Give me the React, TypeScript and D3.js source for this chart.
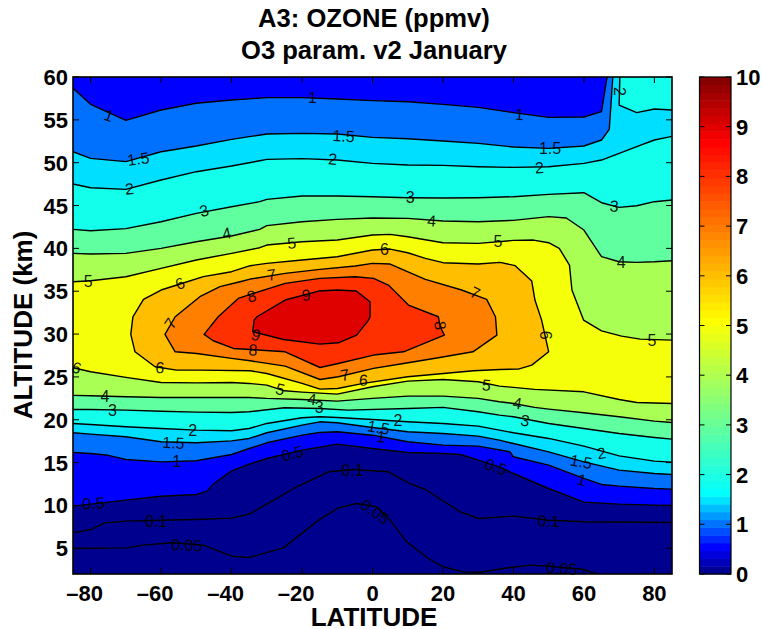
import React from "react";
import * as d3 from "d3";

type P = [number, number];

const xTicks = [-80, -60, -40, -20, 0, 20, 40, 60, 80];
const yTicks = [5, 10, 15, 20, 25, 30, 35, 40, 45, 50, 55, 60];
const cTicks = [0, 1, 2, 3, 4, 5, 6, 7, 8, 9, 10];

const c005: P[] = [[-85,4.98],[-70,5.05],[-65,5.37],[-57,5.64],[-48,5.37],[-40,4.08],[-35,3.93],[-25.3,5.05],[-14.9,8.4],[-9.7,9.72],[-4.5,10.23],[1.2,9.84],[5,8.28],[9.7,5.75],[15.9,3.81],[20,2.84],[25.8,2.25],[30,2.17],[39,2.76],[45,3.03],[50,2.91],[60,2.52],[63.7,2]];
const c01: P[] = [[-85,6.8],[-80,7.19],[-76,7.97],[-70,8.17],[-60,8.28],[-50,8.36],[-40,8.52],[-35,9],[-30,10.15],[-22.4,11.98],[-14.4,13.54],[-12.5,13.93],[-5.4,14.2],[4.5,13.93],[10.2,12.64],[15,11.86],[24.9,9.26],[30,8.48],[40,8.75],[50,8.28],[60,8.09],[85,8.01]];
const c05: P[] = [[-85,9.92],[-80,10.15],[-70,10.62],[-60,11.08],[-50,11.28],[-47,11.67],[-45,12.56],[-40,14.04],[-35,14.82],[-30,15.48],[-20,16.45],[-10,17.16],[0,16.65],[10,16.18],[20,16.07],[25,15.95],[30,15.29],[36,14.5],[40,13.73],[50,11.98],[60,10.39],[70,10.15],[80,10.04],[85,10]];
const low1: P[] = [[-85,16.18],[-80,16.07],[-75,15.85],[-70,15.36],[-60,15.09],[-50,15.21],[-40,15.95],[-35,16.65],[-30,17.31],[-20,18.2],[-15,18.52],[-10,18.6],[0,18.2],[10,17.43],[20,17.04],[30,16.92],[39,16.26],[40,15.68],[50,14.7],[60,13.15],[65,12.45],[70,12.25],[80,11.98],[85,11.9]];
const up1: P[] = [[-85,58.68],[-80,56.81],[-70,54.94],[-60,56.15],[-50,56.93],[-40,57.32],[-30,57.59],[-20,57.59],[-10,57.43],[0,57.24],[10,57.12],[20,56.81],[30,56.46],[40,55.84],[50,55.29],[60,55.33],[65,55.95],[66.5,59.8],[66.7,60]];
const low15: P[] = [[-85,18.48],[-80,18.32],[-70,18.01],[-60,17.43],[-50,17.31],[-40,17.54],[-35,17.82],[-30,18.48],[-20,19.37],[-15,19.76],[-10,19.65],[0,19.1],[10,18.6],[20,18.4],[30,18.09],[36,17.62],[40,17.23],[50,16.26],[60,15.09],[70,14.12],[80,13.73],[85,13.61]];
const up15: P[] = [[-85,51.28],[-80,50.5],[-70,50.12],[-60,51.28],[-50,51.95],[-40,52.72],[-30,53.35],[-20,53.42],[-10,53.35],[0,52.96],[10,52.8],[20,52.53],[30,52.26],[40,51.83],[50,51.67],[60,51.95],[65,52.65],[67.2,53.89],[68.2,60]];
const low2: P[] = [[-85,19.57],[-80,19.45],[-70,19.18],[-60,18.98],[-50,18.79],[-40,18.71],[-35,18.98],[-30,19.57],[-20,20.23],[-15,20.35],[-10,20.27],[0,20.03],[10,19.76],[20,19.57],[30,19.26],[36,18.79],[40,18.48],[50,17.82],[60,16.92],[70,15.79],[80,15.17],[85,15.05]];
const up2: P[] = [[-85,47.51],[-80,47.08],[-70,46.89],[-60,47.98],[-50,48.95],[-40,49.61],[-32,50.23],[-30,50.39],[-20,50.47],[-10,50.31],[0,49.92],[10,49.73],[20,49.69],[30,49.53],[40,49.45],[50,49.53],[60,49.92],[65,50.31],[70,51.09],[75,51.87],[80,52.65],[85,53.07]];
const island2: P[] = [[70.2,60],[70,56.73],[75,55.84],[80,56.26],[85,56.15]];
const low3: P[] = [[-85,21.2],[-80,21.2],[-70,21.12],[-60,21],[-50,20.89],[-40,20.85],[-35,20.93],[-25,21.4],[-15,21.32],[-7,21.12],[10,21.32],[20,21.44],[30,20.93],[36,20.54],[40,20.35],[50,19.57],[60,18.98],[70,18.4],[80,17.93],[85,17.74]];
const up3: P[] = [[-85,42.22],[-80,42.06],[-70,42.3],[-60,43.11],[-50,44.09],[-40,44.86],[-32,45.45],[-30,45.72],[-20,46.11],[-10,46.11],[0,46.03],[10,45.91],[20,45.88],[30,45.91],[40,46.03],[50,46.3],[60,46.5],[65,45.33],[70,44.79],[75,44.98],[80,45.45],[85,45.64]];
const low4: P[] = [[-85,22.84],[-80,22.8],[-70,22.68],[-60,22.6],[-50,22.6],[-40,22.6],[-35,22.6],[-30,22.49],[-20,22.37],[-10,22.17],[0,22.49],[10,22.76],[20,22.76],[30,22.49],[36,22.1],[40,21.9],[46,21.44],[50,21.24],[60,20.81],[70,20.35],[80,19.84],[85,19.68]];
const up4: P[] = [[-85,39.42],[-80,39.34],[-70,39.42],[-60,40],[-50,40.78],[-40,41.44],[-32,42.22],[-30,42.65],[-20,43.11],[-10,43.39],[0,43.54],[10,43.5],[20,43.19],[30,43.11],[40,43.27],[50,43.7],[55,43.54],[60,42.14],[65,39.03],[70,38.44],[75,38.37],[80,38.44],[85,38.56]];
const low5: P[] = [[-85,26.07],[-80,25.6],[-70,24.94],[-60,24.35],[-50,24.3],[-40,24.35],[-35,24.24],[-30,24.04],[-25,23.38],[-20,23.23],[-10,22.99],[0,23.85],[10,24.51],[20,24.7],[30,24.43],[36,23.93],[46,23.54],[60,23.26],[70,22.37],[75,22.02],[85,21.9]];
const up5: P[] = [[-85,36.11],[-80,36.22],[-70,36.69],[-60,37.67],[-50,38.64],[-40,39.42],[-32,40.08],[-30,40.39],[-20,40.78],[-10,40.97],[0,41.56],[5,41.63],[10,41.36],[20,40.66],[30,40.58],[40,40.93],[45.7,40.97],[50,40.66],[53,40],[55.9,38.05],[56.6,35.14],[59.9,31.63],[65,30.38],[70.7,29.76],[76,29.41],[85,29.29]];
const loop6: P[] = [[-68.6,29.96],[-68,32],[-65,34.05],[-60,35.14],[-54.6,35.84],[-48,36.7],[-40,37.28],[-34.7,37.98],[-30,38.25],[-20,38.64],[-10,39.03],[0,39.81],[5,39.92],[10,39.49],[15,38.83],[20,38.33],[30,38.17],[36.2,38.37],[40.5,37.98],[45.2,36.19],[46.1,33.97],[48,31.63],[50,27.93],[45.2,26.38],[41.4,25.91],[36.2,25.87],[28.7,25.72],[10,25.02],[-2.6,24.24],[-9.9,23.65],[-14.9,23.58],[-20,24.24],[-30,25.4],[-34.7,25.72],[-49,25.79],[-55.6,25.79],[-61.7,26.18],[-67.4,27.93]];
const loop7: P[] = [[-58.9,29.96],[-56,32.02],[-49,34.36],[-43.3,35.53],[-37.6,36.11],[-34.7,36.42],[-24.8,37.08],[-14.9,37.55],[-4.9,37.94],[0,38.25],[5,38.17],[15,36.38],[25.3,35.14],[32.4,34.05],[34.9,32.02],[35.3,29.88],[28.5,27.93],[19.1,27.27],[8.8,26.57],[0.3,25.99],[-9.7,25.02],[-14.9,24.7],[-24.8,26.26],[-34.7,26.88],[-40,27.16],[-49.9,27.74],[-56,27.93]];
const loop8: P[] = [[-47.8,29.96],[-43.8,32.02],[-38.1,34.16],[-34.7,34.63],[-24.8,35.91],[-14.9,36.5],[-4.9,36.69],[0.3,36.5],[4.5,35.72],[10.2,33.38],[18.7,32.02],[19.2,30.85],[20.4,29.88],[8.8,27.93],[0.3,27.55],[-9.7,26.57],[-14.9,26.1],[-24.8,27.93],[-34.7,28.2],[-39.5,28.32],[-45.2,29.22]];
const loop9: P[] = [[-32.8,32.02],[-24.8,33.97],[-15.3,35.02],[-9.9,35.14],[-4.6,35.02],[-0.7,33.77],[-0.7,32.02],[-1.1,31.63],[-4.5,29.88],[-9.7,28.98],[-14.9,28.83],[-25.3,29.37],[-34,30.27],[-33.6,31.63]];

const labelText = ["1","1.5","2","3","4","5","6","7","8","1","1.5","2","3","4","5","6","7","9","7","5","8","2","1","1.5","2","3","4","6","5","4","3","2","1.5","1","0.1","0.05","6","6","4","3","1.5","2","1","0.5","0.1","0.05","8","9","5","4","3","7","6","2","1.5","1","0.5","0.1","0.05","5","0.5"];
const labelLat = [-74.8,-66.5,-69,-47.8,-41.4,-80.7,-54.6,-57.3,-34.3,-17,-8.2,-11.3,10.7,16.8,-22.9,3.4,-28.6,-18.8,29.1,35.6,19.2,70,41.7,50.4,47.4,68.6,70.6,49,79.3,41.1,43.3,65,59.2,59.4,50,53.7,-84,-60.3,-75.9,-73.8,-56.5,-51,-55.6,-79.2,-61.4,-52.7,-33.9,-33.1,-26.2,-17.2,-15.1,-7.8,-2.6,7.2,1.7,2.4,-22.7,-5.7,0.7,32.3,35];
const labelAlt = [55.49,50.43,46.93,44.4,41.75,36.19,35.9,31.25,34.4,57.6,53.1,50.4,45.9,43.2,40.6,39.88,36.9,34.55,34.8,40.85,31,58.3,55.64,51.67,49.4,44.94,38.33,29.88,29.3,21.9,19.9,16.07,15.1,13,8.16,2.64,26.07,26.07,22.76,21.05,17.3,18.7,15.1,10.23,8.17,5.36,28.13,29.88,23.54,22.37,21.44,25.21,24.63,19.96,19.1,18,16.07,14.12,9.26,24.04,14.5];
const labelAngle = [20,-8,-5,-15,-12,0,-20,-55,-15,3,3,5,0,5,-5,0,-8,-5,25,0,85,90,5,0,-3,5,0,90,0,10,10,-10,10,15,2,4,20,5,0,0,3,0,0,-3,0,3,3,15,15,8,0,-10,5,0,10,5,-15,0,35,5,20];

const colorDomain = [0, 1.6, 5.1, 8.7, 10];
const colorJetPos = [0, 0.375, 0.625, 0.875, 1];
const fillNames = ["f05","f1","f15","f2","f3","f4","f5","f6","f7","f8","f9"];
const fillColors = ["#0000ff","#0070ff","#00dfff","#14ffeb","#60ff9f","#aaff55","#f5ff0a","#ffbf00","#ff8000","#ff3000","#df0000"];
const baseColor = "#00008f";

const W = 762, H = 629;
const left = 73, right = 672, top = 77, bottom = 574;
const cbL = 699.5, cbR = 731;
const FONT = "'Liberation Sans', Arial, Helvetica, sans-serif";

function jet(t: number): string {
  const f = (c: number) => Math.max(0, Math.min(1, 1.5 - Math.abs(4 * t - c)));
  return d3.rgb(255 * f(3), 255 * f(2), 255 * f(1)).formatHex();
}

export default function App() {
  const x = d3.scaleLinear().domain([-85, 85]).range([left, right]);
  const y = d3.scaleLinear().domain([2, 60]).range([bottom, top]);
  const c = d3.scaleLinear().domain([0, 10]).range([bottom, top]);
  const jetPos = d3.scaleLinear().domain(colorDomain).range(colorJetPos);
  const line = d3.line<P>().x((d) => x(d[0])).y((d) => y(d[1]));
  const poly = (pts: P[]) => line(pts) + "Z";
  const rev = (a: P[]) => [...a].reverse();

  const regions: P[][] = [
    [...c05, [85, 60], [-85, 60]],
    [...low1, [85, 60], ...rev(up1)],
    [...low15, [85, 60], ...rev(up15)],
    [...low2, ...rev(up2)],
    [...low3, ...rev(up3)],
    [...low4, ...rev(up4)],
    [...low5, ...rev(up5)],
    loop6, loop7, loop8, loop9,
  ];
  const openLines = [c005, c01, c05, low1, up1, low15, up15, low2, up2, island2, low3, up3, low4, up4, low5, up5];
  const closedLines = [loop6, loop7, loop8, loop9];
  const bands = d3.range(64);

  return (
    <svg width={W} height={H} viewBox={`0 0 ${W} ${H}`} style={{ position: "absolute", left: 0, top: 0, display: "block", background: "#fff" }} fontFamily={FONT}>
      <defs>
        <clipPath id="plot"><rect x={left} y={top} width={right - left} height={bottom - top} /></clipPath>
      </defs>
      <text x={374} y={27} textAnchor="middle" fontSize={25.6} fontWeight="bold">A3: OZONE (ppmv)</text>
      <text x={374} y={59} textAnchor="middle" fontSize={25.6} fontWeight="bold">O3 param. v2 January</text>
      <g clipPath="url(#plot)">
        <rect x={left} y={top} width={right - left} height={bottom - top} fill={baseColor} />
        {regions.map((r, i) => <path key={fillNames[i]} d={poly(r)} fill={fillColors[i]} />)}
        <path d={poly([...island2, [85, 60]])} fill={fillColors[3]} />
        {openLines.map((l, i) => <path key={i} d={line(l) || ""} fill="none" stroke="#000" strokeWidth={1.4} strokeLinejoin="round" />)}
        {closedLines.map((l, i) => <path key={i} d={poly(l)} fill="none" stroke="#000" strokeWidth={1.4} strokeLinejoin="round" />)}
      </g>
      {labelText.map((t, i) => (
        <text key={i} transform={`translate(${x(labelLat[i])},${y(labelAlt[i])}) rotate(${labelAngle[i]})`} textAnchor="middle" dominantBaseline="central" fontSize={16} fill="#000" fillOpacity={0.9}>{t}</text>
      ))}
      <rect x={left} y={top} width={right - left} height={bottom - top} fill="none" stroke="#000" strokeWidth={1.6} />
      {xTicks.map((t) => (
        <g key={t}>
          <line x1={x(t)} x2={x(t)} y1={bottom} y2={bottom - 6} stroke="#000" />
          <line x1={x(t)} x2={x(t)} y1={top} y2={top + 6} stroke="#000" />
          <text x={t < 0 ? x(t) - 6 : x(t)} y={601} textAnchor="middle" fontSize={22} fontWeight="bold">{t < 0 ? `\u2013${-t}` : t}</text>
        </g>
      ))}
      {yTicks.map((t) => (
        <g key={t}>
          <line x1={left} x2={left + 6} y1={y(t)} y2={y(t)} stroke="#000" />
          <line x1={right} x2={right - 6} y1={y(t)} y2={y(t)} stroke="#000" />
          <text x={68} y={y(t) + 8} textAnchor="end" fontSize={22} fontWeight="bold">{t}</text>
        </g>
      ))}
      <text x={374} y={626} textAnchor="middle" fontSize={26} fontWeight="bold">LATITUDE</text>
      <text transform="translate(23,325) rotate(-90)" textAnchor="middle" dominantBaseline="central" fontSize={26} fontWeight="bold">ALTITUDE (km)</text>
      {bands.map((b) => {
        const v0 = (b / 64) * 10, v1 = ((b + 1) / 64) * 10;
        return <rect key={b} x={cbL} y={c(v1)} width={cbR - cbL} height={c(v0) - c(v1) + 0.5} fill={jet(jetPos((v0 + v1) / 2))} />;
      })}
      <rect x={cbL} y={top} width={cbR - cbL} height={bottom - top} fill="none" stroke="#000" strokeWidth={1.2} />
      {cTicks.map((t) => (
        <g key={t}>
          <line x1={cbL} x2={cbL + 5} y1={c(t)} y2={c(t)} stroke="#000" />
          <line x1={cbR} x2={cbR - 5} y1={c(t)} y2={c(t)} stroke="#000" />
          <text x={736} y={c(t) + 8} fontSize={22} fontWeight="bold">{t}</text>
        </g>
      ))}
    </svg>
  );
}
